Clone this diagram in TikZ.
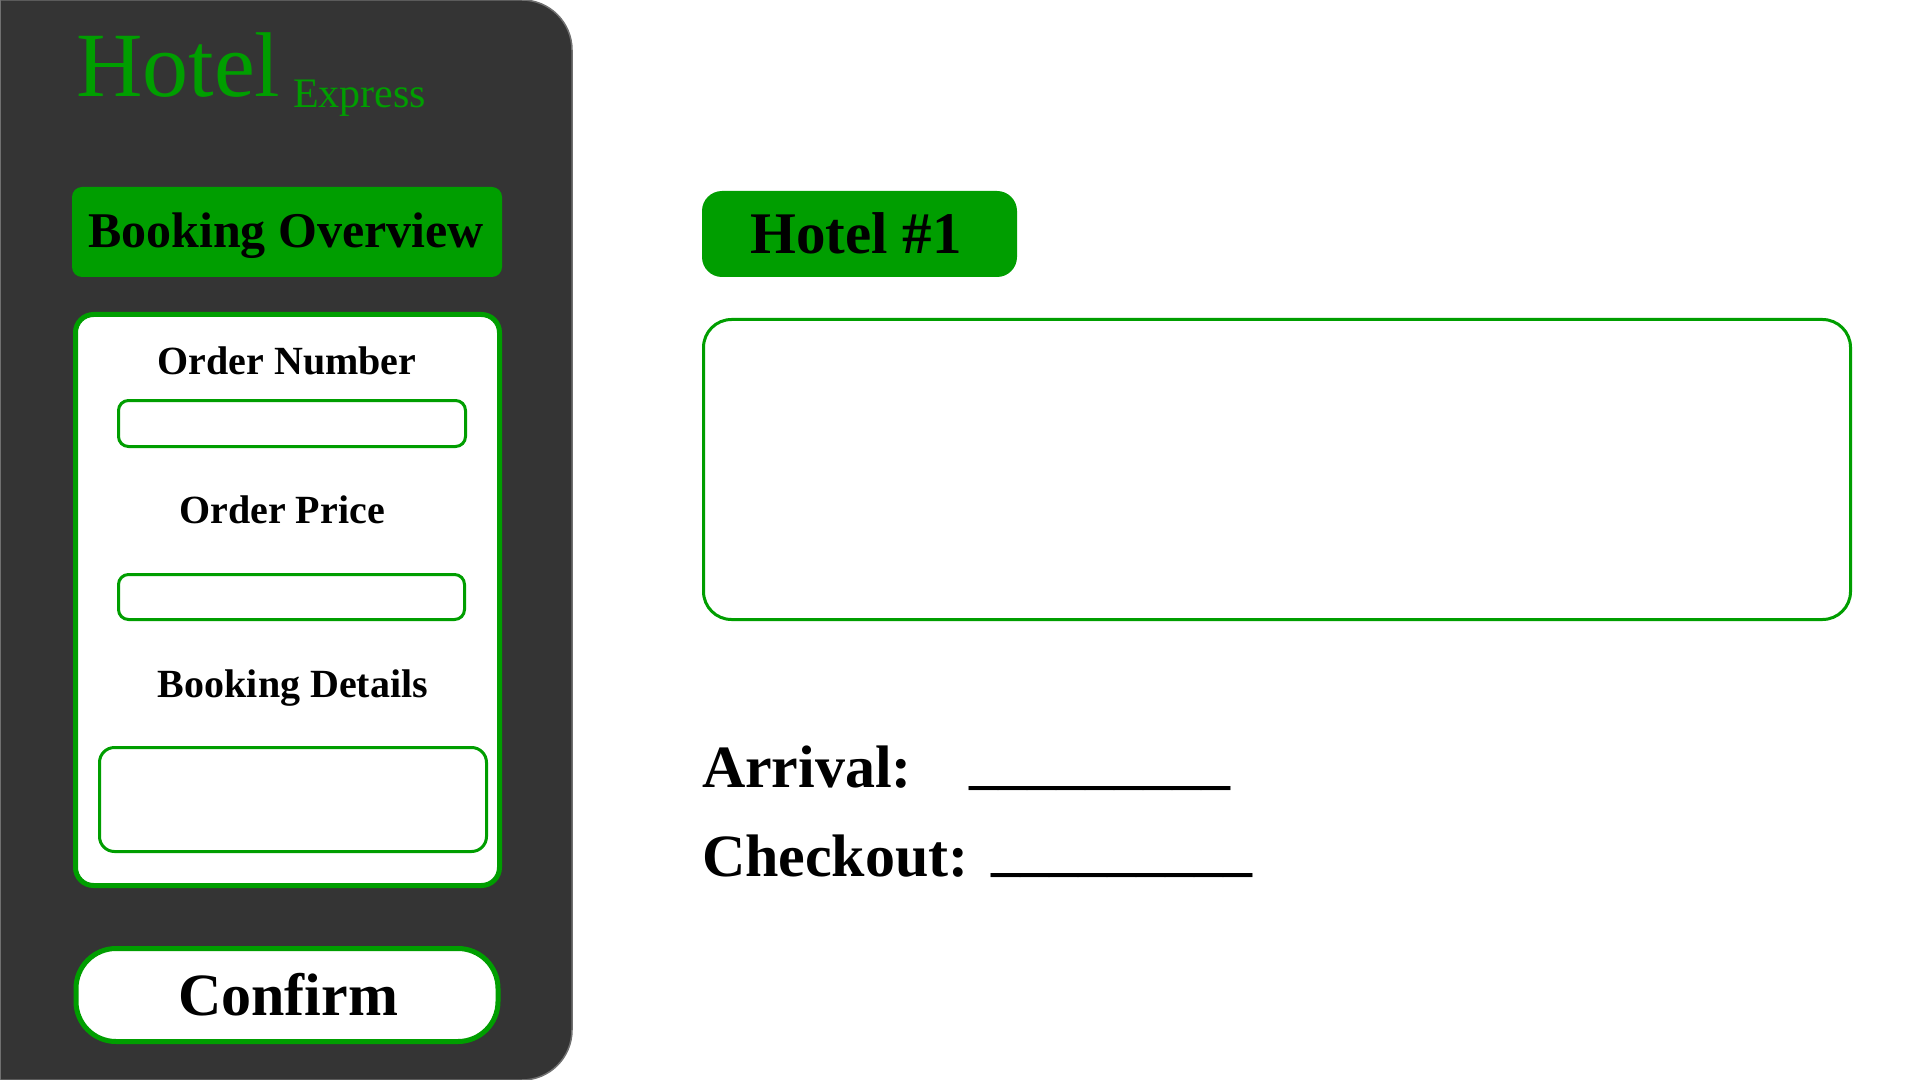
\documentclass[tikz,border=0pt]{standalone}
\usepackage{fontspec}
\setmainfont{Liberation Serif}
\definecolor{panel}{HTML}{343434}
\definecolor{pborder}{HTML}{707070}
\definecolor{hgreen}{RGB}{0,158,0}
\newcommand\fsz[1]{\fontsize{#1}{#1}\selectfont}
\begin{document}
\begin{tikzpicture}[x=0.5pt,y=-0.5pt,
  txt/.style={inner sep=0pt, outer sep=0pt, anchor=base},
  txtw/.style={inner sep=0pt, outer sep=0pt, anchor=base west},
  greenfill/.style={fill=hgreen, draw=none},
  thickbox/.style={draw=hgreen, line width=2.5pt, fill=white},
  thinbox/.style={draw=hgreen, line width=1.5pt, fill=white},
  fieldlabel/.style={txt, font=\bfseries\fsz{20pt}},
  bigtext/.style={font=\bfseries\fsz{30pt}},
  blanktext/.style={font=\bfseries\fsz{29pt}}]
\useasboundingbox (0,0) rectangle (1920,1080);
\fill[white] (0,0) rectangle (1920,1080);

% side panel
\draw[fill=panel, draw=pborder, line width=0.75pt]
  (0,0) -- (522,0) .. controls (549.6,0) and (572,22.4) .. (572,50)
  -- (572,1030) .. controls (572,1057.6) and (549.6,1080) .. (522,1080)
  -- (0,1080) -- cycle;

% logo
\node[txtw, text=hgreen, font=\fsz{46pt}] (logo) at (76,97) {Hotel};
\node[txtw, text=hgreen, font=\fsz{21pt}] (logosub) at (293,108) {Express};

% Booking overview header
\fill[greenfill, rounded corners=5pt] (72,187) rectangle (502,277);
\node[txt, font=\bfseries\fsz{25pt}] (overview) at (286,248) {Booking Overview};

% white card
\draw[thickbox, rounded corners=9pt] (75.5,314.5) rectangle (499.5,885.5);
\node[fieldlabel] (ordnum) at (287,374) {Order Number};
\draw[thinbox, rounded corners=5pt] (118.5,400.5) rectangle (465.5,446.5);
\node[fieldlabel] (ordprice) at (282,523) {Order Price};
\draw[thinbox, rounded corners=5pt] (118.5,574.5) rectangle (464.5,619.5);
\node[fieldlabel] (bdetails) at (293,697) {Booking Details};
\draw[thinbox, rounded corners=7.5pt] (99.5,747.5) rectangle (486.5,851.5);

% confirm button
\draw[thickbox, rounded corners=20pt] (76,948.5) rectangle (498,1041.5);
\node[txt, font=\bfseries\fsz{30pt}] (confirm) at (288,1015) {Confirm};

% Hotel #1 header
\fill[greenfill, rounded corners=10pt] (702,191) rectangle (1017,277);
\node[txt, font=\bfseries\fsz{29.5pt}] (hotelone) at (856,254) {Hotel \#1};

% big box
\draw[thinbox, rounded corners=14pt] (703.5,319.5) rectangle (1850.5,619.5);

% arrival / checkout
\node[txtw, bigtext] (arrival) at (702,787) {Arrival:};
\node[txtw, blanktext] (arrline) at (969,782) {\_\_\_\_\_\_\_\_\_};
\node[txtw, bigtext] (checkout) at (702,876) {Checkout:};
\node[txtw, blanktext] (chkline) at (991,869) {\_\_\_\_\_\_\_\_\_};
\end{tikzpicture}
\end{document}
